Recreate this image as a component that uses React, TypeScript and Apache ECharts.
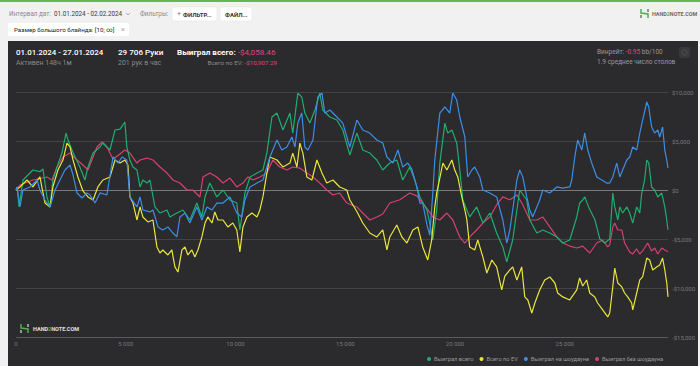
import React, { useEffect, useRef } from 'react';
import * as echarts from 'echarts';

const totalHands = 29706;
const xInterval = 5000;
const yMin = -15000;
const yMax = 10000;
const yInterval = 5000;
const seriesNames = ['Выиграл всего', 'Всего по EV', 'Выиграл на шоудауне', 'Выиграл без шоудауна'];
const seriesColors = ['#1fae6f', '#e8e63a', '#3d8ee6', '#d6416f'];

const wonTotal: [number, number][] = [
  [0, 0], [50, 310], [140, -1730], [320, 1020], [770, 2040], [1090, 1870], [1230, 2140], [1410, -710], [1550, -1730],
  [1680, 1020], [1870, 2350], [2090, 3770], [2280, 5810], [2370, 5100], [2550, 4080], [2690, 3370], [2910, 2350],
  [3140, 1020], [3280, 2350], [3510, 3770], [3830, 4390], [3960, 4800], [4280, 4080], [4510, 6120], [4740, 6220],
  [4960, 6940], [5050, 4390], [5190, 3060], [5330, 2350], [5510, 2040], [5650, 310], [5780, 1020], [5970, 710],
  [6100, 1020], [6330, -1730], [6560, -2350], [6880, -2040], [7010, -2750], [7330, -2350], [7610, -2040],
  [7920, -3060], [8240, -1330], [8470, -2750], [8610, -710], [8830, 710], [9150, -710], [9430, 0], [9750, -1020],
  [10060, -1330], [10200, -4080], [10430, -310], [10660, 1330], [10980, 1730], [11250, 2040], [11430, 3770],
  [11660, 7450], [11890, 7850], [12160, 6120], [12480, 7850], [12610, 5810], [12840, 9890],
  [13020, 9490], [13160, 7850], [13390, 6830], [13620, 8160], [13840, 9890], [13980, 8160], [14300, 7450],
  [14620, 7140], [14890, 6120], [15210, 3570], [15530, 5810], [15800, 4080], [16120, 3770], [16440, 3060],
  [16710, 2040], [17030, 2750], [17350, 3060], [17620, 1020], [17940, 2350], [18170, 1020], [18400, -710],
  [18720, -2040], [18850, -3370], [18990, -5100], [19170, -2000], [19310, 2750], [19540, 6830], [19670, 5810],
  [19860, 6120], [20080, 4790], [20220, 2040], [20360, -1020], [20670, -2750], [20990, -1730], [21270, -3370],
  [21590, -2350], [21900, -4390], [22180, -5810], [22360, -7340], [22630, -5100], [22950, 0], [23270, -1020],
  [23410, -3060], [23730, -4390], [24000, -4080], [24320, -4390], [24640, -4790], [24910, -5410], [25230, -5100],
  [25550, -2750], [25680, -1330], [25820, -1020], [25910, -700], [26140, -2000], [26370, -3000], [26600, -5000],
  [26820, -5400], [27050, -5000], [27190, -310], [27280, -1730], [27420, -3060], [27510, -1730], [27640, -2350],
  [27830, -1730], [27960, -2350], [28100, -3370], [28280, -1730], [28420, -2350], [28510, -310], [28640, 1020],
  [28740, 3060], [28830, 2750], [28960, 310], [29100, 0], [29240, -710], [29420, -310], [29560, -1730],
  [29650, -3060], [29706, -4058],
];

const evTotal: [number, number][] = [
  [0, 0], [180, 310], [500, 1020], [770, 310], [1090, 1330], [1320, -1330], [1550, -1730], [1680, 310],
  [1910, 2040], [2140, 3060], [2320, 4790], [2460, 4390], [2600, 3060], [2820, 1330], [3050, -100], [3280, -710],
  [3510, -1020], [3730, 310], [3960, 1020], [4280, 1330], [4510, 3060], [4740, 2750], [4960, 3060], [5100, 2550],
  [5190, -710], [5330, -1330], [5510, -3060], [5650, -1730], [5780, -2750], [6010, -3260], [6240, -3060],
  [6420, -5810], [6560, -6430], [6690, -6120], [6920, -6630], [7100, -6120], [7240, -7850], [7380, -8370],
  [7560, -6120], [7700, -5810], [7830, -6630], [8010, -6120], [8150, -6830], [8290, -6120], [8470, -4790],
  [8610, -3370], [8740, -2750], [8930, -3370], [9060, -2240], [9200, -3060], [9430, -3060], [9650, -3770],
  [9880, -3370], [10060, -4080], [10200, -6320], [10340, -3770], [10520, -2750], [10750, -2350], [10980, -2750],
  [11110, -2040], [11250, -710], [11430, 1730], [11570, 3370], [11890, 3060], [12160, 2350], [12480, 2750],
  [12610, 3770], [12800, 2350], [12930, 4790], [13070, 3770], [13250, 1330], [13480, 1020], [13710, 3060],
  [13940, 1730], [14160, 710], [14440, 1020], [14750, 310], [15070, 0], [15210, -1020], [15530, -2200],
  [15800, -3370], [16120, -4390], [16440, -4790], [16710, -4080], [16900, -6120], [17030, -4790], [17350, -3570],
  [17580, -4790], [17810, -5410], [18080, -4080], [18310, -3770], [18530, -5810], [18760, -7140], [18940, -5100],
  [19080, -1730], [19170, -300], [19450, 2750], [19630, 2040], [19860, 3060], [19990, 2040], [20130, 1330],
  [20310, -710], [20450, -2040], [20540, -3000], [20670, -5810], [20900, -6120], [21040, -5100], [21270, -6830],
  [21450, -8470], [21680, -7140], [21900, -7850], [22130, -10200], [22270, -8780], [22500, -8160], [22630, -7850],
  [22820, -9180], [23040, -7850], [23180, -10910], [23320, -11220], [23500, -12550], [23640, -11530],
  [23860, -10200], [24090, -9180], [24320, -8870], [24550, -9490], [24680, -10510], [24910, -10910],
  [25230, -11220], [25550, -10200], [25680, -8980], [25820, -9800], [26000, -9180], [26140, -10510],
  [26370, -10910], [26500, -11530], [26730, -12240], [26960, -12950], [27050, -12550], [27190, -9890],
  [27280, -7960], [27420, -9490], [27600, -9890], [27730, -10510], [27870, -10910], [28050, -11530],
  [28100, -12240], [28280, -10510], [28420, -9180], [28550, -8870], [28740, -6940], [28870, -7140],
  [29010, -8160], [29190, -7850], [29330, -7650], [29460, -6940], [29560, -8160], [29650, -9490], [29706, -10907],
];

const wonShowdown: [number, number][] = [
  [0, 0], [50, 310], [180, -1730], [320, 0], [640, 310], [960, 1020], [1090, 0], [1320, -1020], [1550, -1730],
  [1780, 0], [2000, 1020], [2230, 2040], [2460, 2550], [2600, 1530], [2780, -310], [3010, -820], [3230, -310],
  [3370, -510], [3600, -1330], [3830, -300], [4140, -510], [4420, 3370], [4650, 2750], [4830, 3370], [5050, 3060],
  [5190, -710], [5510, -1730], [5650, -710], [5780, -2040], [6100, -2240], [6240, -2040], [6470, -3770],
  [6690, -4080], [6920, -3770], [7150, -4390], [7330, -4790], [7470, -2750], [7700, -2350], [7920, -3370],
  [8240, -1730], [8470, -3060], [8700, -1730], [8930, -2040], [9150, -1330], [9430, -1330], [9750, -710],
  [10060, -2350], [10290, -2750], [10430, -1020], [10660, 310], [10980, 710], [11250, 1020], [11430, 2350],
  [11570, 3370], [11700, 4080], [11890, 5100], [12110, 4080], [12340, 4390], [12570, 5410], [12710, 4390],
  [12840, 6830], [13020, 7850], [13160, 4390], [13300, 4080], [13530, 5100], [13750, 9490], [13940, 9890],
  [14070, 7850], [14300, 8160], [14620, 7450], [14890, 6830], [15210, 4390], [15530, 7140], [15800, 6120],
  [16120, 5810], [16440, 5100], [16710, 4800], [16900, 3370], [17170, 2750], [17400, 4080], [17620, 2350],
  [17850, 2750], [18030, 2140], [18260, 310], [18400, -1330], [18530, -1330], [18720, -3500], [18850, -4600],
  [18990, -300], [19080, 3060], [19310, 7850], [19540, 8470], [19760, 7850], [19900, 9890], [20080, 9180],
  [20220, 7450], [20450, 5410], [20580, 1330], [20770, 2040], [20900, 2350], [21130, 1330], [21270, 0],
  [21590, -310], [21900, -710], [22180, -3060], [22360, -5410], [22500, -4080], [22630, -2040], [22820, 1020],
  [22950, 2040], [23090, 1330], [23270, -710], [23410, -2040], [23540, -2750], [23730, -1730], [23860, -1020],
  [24000, 0], [24320, -300], [24640, 310], [24910, 200], [25230, 310], [25320, 1020], [25460, 3370],
  [25590, 5100], [25780, 4080], [25910, 5810], [26050, 4080], [26230, 2750], [26460, 1330], [26690, 1020],
  [26910, 710], [27050, 710], [27190, 1330], [27370, 2750], [27510, 1330], [27640, 2040], [27830, 3060],
  [27960, 3370], [28100, 4390], [28280, 4080], [28420, 5810], [28550, 7140], [28740, 8980], [28830, 8470],
  [28960, 6430], [29100, 5810], [29240, 6120], [29330, 5410], [29460, 6430], [29560, 4080], [29650, 3060],
  [29706, 2240],
];

const wonNonShowdown: [number, number][] = [
  [0, 0], [180, 510], [770, 1020], [1410, 1330], [1640, 1020], [1870, 2350], [2140, 3370], [2460, 3770],
  [2780, 3060], [3050, 2550], [3280, 2040], [3510, 3370], [3690, 4390], [3920, 4900], [4140, 4390], [4420, 3170],
  [4740, 3670], [4960, 4080], [5190, 3770], [5510, 2750], [5650, 3060], [5970, 3260], [6240, 3060], [6560, 2350],
  [6880, 1730], [7150, 1020], [7470, 710], [7790, 0], [8060, 0], [8380, -710], [8520, 1330], [8830, 1730],
  [9150, 1330], [9430, 710], [9750, 1220], [10060, 310], [10340, 710], [10570, 1330], [10790, 1020], [11110, 1330],
  [11430, 1730], [11700, 3060], [12020, 2350], [12340, 2040], [12610, 2350], [12930, 2240], [13250, 1730],
  [13530, 1330], [13840, 710], [14160, 0], [14440, -510], [14750, -310], [15070, -1330], [15530, -1730],
  [15800, -2350], [16120, -3060], [16440, -2750], [16710, -2450], [17030, -1330], [17490, -1000], [17940, -310],
  [18260, -600], [18530, -1330], [18760, -2000], [18990, -2750], [19310, -3060], [19630, -2350], [19900, -3060],
  [20220, -4790], [20450, -5410], [20670, -4790], [20990, -4080], [21270, -3370], [21590, -2750], [21900, -1500],
  [22180, -700], [22500, -1000], [22820, -500], [23090, -1500], [23410, -3060], [23730, -3060], [24000, -2750],
  [24320, -3770], [24640, -4790], [24910, -5410], [25230, -5720], [25550, -5920], [25820, -5720], [26140, -6430],
  [26460, -5410], [26730, -5100], [26960, -5810], [27050, -5600], [27190, -3770], [27280, -3370], [27420, -4080],
  [27600, -4080], [27730, -5410], [27960, -6320], [28100, -6530], [28280, -6020], [28420, -6530], [28550, -6220],
  [28780, -5410], [28960, -6220], [29100, -5920], [29240, -6530], [29420, -5920], [29560, -6120], [29706, -6300],
];

const seriesData = [wonTotal, evTotal, wonShowdown, wonNonShowdown];

const FONT = 'Roboto, "Noto Sans", sans-serif';

function money(v: number) {
  return (v < 0 ? '-' : '') + '$' + Math.abs(v).toLocaleString('en-US');
}

export default function App() {
  const ref = useRef<HTMLDivElement>(null);
  useEffect(() => {
    document.body.style.margin = '0';
    const chart = echarts.init(ref.current!, null, { renderer: 'svg' });
    const t = (text: string, x: number, y: number, fill: string, size: number, weight: any = 'normal', align = 'left') => ({
      type: 'text', x, y, z: 5,
      style: { text, fill, fontSize: size, fontFamily: FONT, fontWeight: weight, align, verticalAlign: 'middle' },
    });
    const option: any = {
      animation: false,
      backgroundColor: '#f1f1f1',
      textStyle: { fontFamily: FONT },
      grid: { left: 16, right: 32, top: 92, bottom: 29 },
      xAxis: {
        type: 'value', min: 0, max: totalHands, interval: xInterval,
        axisLine: { show: false }, axisTick: { show: false }, splitLine: { show: false },
        axisLabel: {
          showMaxLabel: false, color: '#7a7a7a', fontSize: 6, margin: 3,
          formatter: (v: number) => String(v).replace(/\B(?=(\d{3})+(?!\d))/g, ' '),
        },
      },
      yAxis: {
        type: 'value', position: 'right', min: yMin, max: yMax, interval: yInterval,
        axisLine: { show: false }, axisTick: { show: false },
        splitLine: { lineStyle: { color: ['#5a5a5c', '#444446', '#444446', '#7a7a7c', '#444446', '#444446'], width: 1 } },
        axisLabel: { color: '#7a7a7a', fontSize: 6, margin: 4, align: 'left', formatter: (v: number) => money(v) },
      },
      legend: {
        right: 32, top: 351, icon: 'circle', itemWidth: 4, itemHeight: 4, itemGap: 6,
        textStyle: { color: '#9a9a9a', fontSize: 5.7, padding: [0, 0, 0, -2] },
        data: seriesNames,
      },
      series: seriesNames.map((name, i) => ({
        name, type: 'line', data: seriesData[i], showSymbol: false, symbol: 'none',
        lineStyle: { color: seriesColors[i], width: 1.2 }, itemStyle: { color: seriesColors[i] },
        z: i === 3 ? 2 : 3,
      })),
      graphic: [
        { type: 'rect', z: -10, shape: { x: 0, y: 0, width: 700, height: 2 }, style: { fill: '#6db351' } },
        { type: 'rect', z: -10, shape: { x: 8, y: 41, width: 690, height: 330 }, style: { fill: '#2b2a2d' } },
        t('Интервал дат:', 9, 14, '#8a8a8a', 6.3),
        t('01.01.2024 - 02.02.2024', 54, 14, '#3a3a3a', 6.3),
        { type: 'polyline', z: 5, shape: { points: [[126, 13], [128, 15], [130, 13]] }, style: { stroke: '#999', lineWidth: 0.8, fill: 'none' } },
        t('Фильтры:', 140, 14, '#8a8a8a', 6.3),
        { type: 'rect', z: 1, shape: { x: 172, y: 7, width: 45, height: 14, r: 2 }, style: { fill: '#ffffff', stroke: '#e2e2e2', lineWidth: 0.5 } },
        t('+', 177, 14, '#777', 7),
        t('ФИЛЬТР...', 183, 14, '#333333', 6, 'bold'),
        { type: 'rect', z: 1, shape: { x: 220, y: 7, width: 32, height: 14, r: 2 }, style: { fill: '#ffffff', stroke: '#e2e2e2', lineWidth: 0.5 } },
        t('ФАЙЛ...', 225, 14, '#333333', 6, 'bold'),
        { type: 'rect', z: 1, shape: { x: 8, y: 23, width: 121, height: 13, r: 2 }, style: { fill: '#ffffff' } },
        t('Размер большого блайнда: [10; ∞]', 14, 29.5, '#222222', 6.2),
        t('×', 121, 29.5, '#aaaaaa', 7),
        { type: 'polyline', z: 5, shape: { points: [[641, 9], [641, 13], [648, 14], [648, 18]] }, style: { stroke: '#4caf50', lineWidth: 1.5, fill: 'none' } },
        { type: 'line', z: 5, shape: { x1: 648, y1: 9, x2: 648, y2: 12 }, style: { stroke: '#555', lineWidth: 1.2 } },
        { type: 'line', z: 5, shape: { x1: 641, y1: 15, x2: 641, y2: 18 }, style: { stroke: '#555', lineWidth: 1.2 } },
        {
          type: 'text', z: 5, x: 652, y: 14,
          style: {
            text: '{a|HAND}{b|2}{a|NOTE.COM}', verticalAlign: 'middle', fontFamily: FONT,
            rich: { a: { fill: '#6a6a6a', fontSize: 5.4, fontWeight: 'bold', fontFamily: FONT }, b: { fill: '#4caf50', fontSize: 5.4, fontWeight: 'bold', fontFamily: FONT } },
          },
        },
        t('01.01.2024 - 27.01.2024', 16, 52, '#ffffff', 7.9, 500),
        t('Активен 148ч 1м', 16, 62.5, '#8a8a8a', 7),
        t('29 706 Руки', 118, 52, '#ffffff', 8.1, 500),
        t('201 рук в час', 118, 62.5, '#8a8a8a', 7),
        {
          type: 'text', z: 5, x: 177, y: 52,
          style: {
            text: '{w|Выиграл всего: }{r|-$4,058.46}', verticalAlign: 'middle', fontFamily: FONT,
            rich: { w: { fill: '#ffffff', fontSize: 8.1, fontWeight: 'bold', fontFamily: FONT }, r: { fill: '#e0457b', fontSize: 8.1, fontFamily: FONT } },
          },
        },
        {
          type: 'text', z: 5, x: 277, y: 62.5,
          style: {
            text: '{w|Всего по EV: }{r|-$10,907.29}', align: 'right', verticalAlign: 'middle', fontFamily: FONT,
            rich: { w: { fill: '#8a8a8a', fontSize: 6.2, fontFamily: FONT }, r: { fill: '#e0457b', fontSize: 6.2, fontFamily: FONT } },
          },
        },
        {
          type: 'text', z: 5, x: 597, y: 52,
          style: {
            text: '{w|Винрейт: }{r|-0.95}{w| bb/100}', verticalAlign: 'middle', fontFamily: FONT,
            rich: { w: { fill: '#9a9a9a', fontSize: 6.5, fontFamily: FONT }, r: { fill: '#e0457b', fontSize: 6.5, fontFamily: FONT } },
          },
        },
        t('1.9 среднее число столов', 597, 62, '#9a9a9a', 6.5),
        { type: 'rect', z: 1, shape: { x: 679, y: 47, width: 11, height: 11, r: 2 }, style: { fill: '#39383b' } },
        { type: 'circle', z: 2, shape: { cx: 684.5, cy: 52.5, r: 2.5 }, style: { fill: 'none', stroke: '#5a595c', lineWidth: 0.8 } },
        { type: 'polyline', z: 5, shape: { points: [[21, 324], [21, 328], [28, 329], [28, 333]] }, style: { stroke: '#4caf50', lineWidth: 1.5, fill: 'none' } },
        { type: 'line', z: 5, shape: { x1: 28, y1: 324, x2: 28, y2: 327 }, style: { stroke: '#ddd', lineWidth: 1.2 } },
        { type: 'line', z: 5, shape: { x1: 21, y1: 330, x2: 21, y2: 333 }, style: { stroke: '#ddd', lineWidth: 1.2 } },
        {
          type: 'text', z: 5, x: 33, y: 329,
          style: {
            text: '{a|HAND}{b|2}{a|NOTE.COM}', verticalAlign: 'middle', fontFamily: FONT,
            rich: { a: { fill: '#e0e0e0', fontSize: 5.5, fontWeight: 'bold', fontFamily: FONT }, b: { fill: '#4caf50', fontSize: 5.5, fontWeight: 'bold', fontFamily: FONT } },
          },
        },
      ],
    };
    chart.setOption(option);
    return () => chart.dispose();
  }, []);
  return <div ref={ref} style={{ width: 700, height: 366 }} />;
}
